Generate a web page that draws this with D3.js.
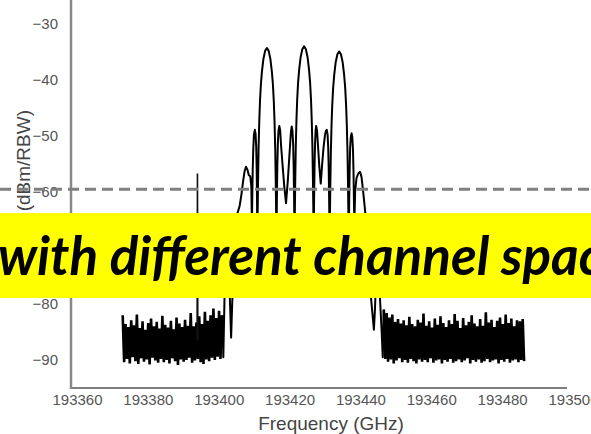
<!DOCTYPE html>
<html>
<head>
<meta charset="utf-8">
<script src="https://cdn.jsdelivr.net/npm/d3@7"></script>
<style>
body { margin: 0; background: #fff; }
svg { display: block; }
</style>
</head>
<body>
<div id="chart"></div>
<script>
var xTicks = [193360, 193380, 193400, 193420, 193440, 193460, 193480, 193500];
var yTicks = [-90, -80, -70, -60, -50, -40, -30];
var threshold = -59.5;

// noise floor samples, 0.4 GHz apart
var noiseStep = 0.4;
var noiseLeftStart = 193372.9;
var noiseLeft = [-82.0, -90.4, -83.6, -89.8, -84.1, -90.6, -82.9, -89.5, -83.8, -90.2,
    -81.9, -90.7, -84.3, -89.7, -83.1, -90.3, -84.6, -89.9, -83.4, -90.8,
    -82.6, -89.6, -84.0, -90.1, -83.2, -90.5, -84.4, -89.8, -82.1, -90.4,
    -83.7, -90.0, -84.2, -90.6, -83.0, -89.7, -84.5, -90.2, -82.4, -90.9,
    -83.5, -89.9, -84.1, -90.3, -82.8, -90.0, -83.9, -89.6, -81.6, -90.5,
    -84.0, -90.1, -83.3, -89.8, -82.2, -90.4, -83.6, -90.7, -81.4, -89.9,
    -83.0, -90.2, -82.0, -89.6, -80.8, -90.0, -82.5, -89.4, -81.2, -89.8,
    -82.0];
var noiseRightStart = 193446.6;
var noiseRight = [-81.0, -89.8, -81.6, -90.3, -82.4, -89.9, -81.9, -90.6, -83.2, -90.1,
    -82.7, -89.7, -83.5, -90.4, -82.9, -90.0, -83.8, -90.5, -82.3, -89.8,
    -83.6, -90.2, -84.0, -90.6, -82.8, -89.9, -83.3, -90.3, -81.7, -90.0,
    -83.9, -90.4, -83.1, -89.7, -84.2, -90.5, -82.6, -90.1, -83.7, -89.9,
    -82.2, -90.6, -83.4, -90.0, -84.1, -90.3, -82.9, -89.8, -83.6, -90.5,
    -81.8, -90.2, -83.0, -89.9, -84.3, -90.4, -82.5, -90.1, -83.8, -89.7,
    -83.2, -90.6, -82.0, -90.0, -83.5, -90.3, -84.0, -89.9, -82.7, -90.5,
    -83.9, -90.2, -81.5, -89.8, -83.3, -90.4, -82.8, -90.1, -84.1, -89.9,
    -83.0, -90.6, -82.4, -90.0, -83.6, -90.3, -81.9, -89.8, -83.4, -90.5,
    -82.6, -90.1, -84.0, -89.9, -82.9, -90.4, -83.1, -90.0, -82.7, -90.2];

// three channels, [GHz, dBm]
var signal = [
    [193401.0, -82.0], [193401.3, -89.5], [193401.6, -80], [193402.0, -70], [193402.4, -66], [193402.8, -72],
    [193403.2, -80], [193403.5, -86], [193403.8, -80], [193404.3, -72], [193404.8, -66],
    [193405.2, -64], [193405.9, -62.5], [193406.4, -60.5], [193406.9, -58], [193407.3, -56.3],
    [193407.7, -55.5], [193408.1, -56], [193408.5, -57], [193408.9, -57.2], [193409.2, -59],
    [193409.38, -66], [193409.45, -62], [193409.6, -56], [193409.75, -52.4], [193409.95, -49.7],
    [193410.2, -48.9], [193410.4, -49.6], [193410.58, -51.9], [193410.72, -55.9], [193410.82, -61.9],
    [193410.88, -68],
    [193410.98, -64.3], [193411.1, -58.3], [193411.25, -52.3], [193411.45, -47.3], [193411.65, -43.8],
    [193411.9, -40.8], [193412.2, -38.5], [193412.6, -36.3], [193413.1, -34.8], [193413.6, -34.3],
    [193414.1, -34.8], [193414.6, -36.3], [193415.0, -38.5], [193415.3, -40.8], [193415.55, -43.8],
    [193415.75, -47.3], [193415.95, -52.3], [193416.1, -58.3], [193416.22, -64.3], [193416.32, -68],
    [193416.42, -61.2], [193416.55, -55.2], [193416.7, -51.2], [193416.88, -49], [193417.1, -48.2],
    [193417.35, -49], [193417.6, -51.7], [193418.0, -55], [193418.5, -59], [193419.0, -62],
    [193419.5, -58], [193419.9, -54], [193420.2, -51], [193420.4, -49.2], [193420.6, -48.3],
    [193420.82, -49.1], [193421.0, -51.3], [193421.15, -55.3], [193421.28, -61.3], [193421.38, -68],
    [193421.48, -64], [193421.6, -58], [193421.75, -52], [193421.95, -47], [193422.15, -43.5],
    [193422.4, -40.5], [193422.7, -38.2], [193423.1, -36.0], [193423.6, -34.5], [193424.1, -34.0],
    [193424.6, -34.5], [193425.1, -36.0], [193425.5, -38.2], [193425.8, -40.5], [193426.05, -43.5],
    [193426.25, -47], [193426.45, -52], [193426.6, -58], [193426.72, -64], [193426.82, -68],
    [193426.92, -61.2], [193427.05, -55.2], [193427.2, -51.2], [193427.35, -49], [193427.5, -48.2],
    [193427.75, -49], [193428.0, -51.5], [193428.4, -55.5], [193428.8, -58.5], [193429.2, -55],
    [193429.6, -52], [193430.0, -49.8], [193430.25, -49.1], [193430.5, -48.9], [193430.72, -49.7],
    [193430.9, -51.9], [193431.05, -55.9], [193431.18, -61.9], [193431.28, -68],
    [193431.38, -64.9], [193431.5, -58.9], [193431.65, -52.9], [193431.85, -47.9], [193432.05, -44.4],
    [193432.3, -41.4], [193432.6, -39.1], [193433.0, -36.9], [193433.5, -35.4], [193434.0, -34.9],
    [193434.5, -35.4], [193435.0, -36.9], [193435.4, -39.1], [193435.7, -41.4], [193435.95, -44.4],
    [193436.15, -47.9], [193436.35, -52.9], [193436.5, -58.9], [193436.62, -64.9], [193436.72, -68],
    [193436.82, -62], [193436.95, -56], [193437.1, -52], [193437.28, -50.2], [193437.5, -49.5],
    [193437.72, -50.3], [193437.9, -52.5], [193438.05, -56.5], [193438.18, -62], [193438.28, -66],
    [193438.5, -60], [193438.9, -57.5], [193439.4, -56.7], [193439.9, -56.4], [193440.3, -57.3],
    [193440.7, -59.5], [193441.1, -62], [193441.5, -64.5], [193442.0, -70], [193442.5, -75],
    [193443.0, -79], [193443.5, -82.5], [193443.8, -84.6], [193444.1, -81], [193444.5, -74],
    [193444.8, -68], [193445.2, -74], [193445.6, -80], [193446.0, -85], [193446.3, -89.5],
    [193446.6, -81.0]
];
var spur = [[193393.9, -86.5], [193394.0, -56.7], [193394.1, -86.5]];

var bannerText = "with different channel spacing";

var W = 591, H = 434;
var svg = d3.select("#chart").append("svg").attr("width", W).attr("height", H);

var x = d3.scaleLinear().domain([193360, 193500]).range([77, 573]);
var y = d3.scaleLinear().domain([-95, -25]).range([388, -4]);

var line = d3.line().x(function (d) { return x(d[0]); }).y(function (d) { return y(d[1]); });

function noisePts(start, vals) {
    return vals.map(function (v, i) { return [start + i * noiseStep, v]; });
}

svg.selectAll("path.noise").data([noisePts(noiseLeftStart, noiseLeft), noisePts(noiseRightStart, noiseRight)])
    .enter().append("path").attr("class", "noise").attr("d", line)
    .attr("fill", "none").attr("stroke", "#000").attr("stroke-width", 2.6);
svg.append("path").datum(signal).attr("d", line)
    .attr("fill", "none").attr("stroke", "#000").attr("stroke-width", 2).attr("stroke-linejoin", "round");
svg.append("path").datum(spur).attr("d", line)
    .attr("fill", "none").attr("stroke", "#111").attr("stroke-width", 1.6);

// axes
svg.append("g").attr("transform", "translate(71,0)")
    .call(d3.axisLeft(y).tickValues(yTicks).tickSize(0).tickPadding(13));
svg.append("g").attr("transform", "translate(0,388)")
    .call(d3.axisBottom(x).tickValues(xTicks).tickSize(0).tickPadding(6).tickFormat(d3.format("d")));
svg.selectAll(".domain").remove();
svg.selectAll(".tick text").attr("font-family", "Liberation Sans, Arial, sans-serif")
    .attr("font-size", 15).attr("fill", "#555");

svg.append("line").attr("x1", 71).attr("x2", 567).attr("y1", 388).attr("y2", 388)
    .attr("stroke", "#555").attr("stroke-width", 1.6);
svg.append("line").attr("x1", 71).attr("x2", 71).attr("y1", 0).attr("y2", 389)
    .attr("stroke", "#888").attr("stroke-width", 2.5);

svg.append("text").attr("x", 331).attr("y", 430).attr("text-anchor", "middle")
    .attr("font-family", "Liberation Sans, Arial, sans-serif").attr("font-size", 19).attr("fill", "#444")
    .text("Frequency (GHz)");
svg.append("text").attr("transform", "translate(30,110) rotate(-90)").attr("text-anchor", "end")
    .attr("font-family", "Liberation Sans, Arial, sans-serif").attr("font-size", 19).attr("fill", "#444")
    .text("Power (dBm/RBW)");

// threshold
svg.append("line").attr("x1", 0).attr("x2", W).attr("y1", y(threshold)).attr("y2", y(threshold))
    .attr("stroke", "#808080").attr("stroke-width", 3).attr("stroke-dasharray", "11,6");

// banner
svg.append("rect").attr("x", 0).attr("y", 213).attr("width", W).attr("height", 85).attr("fill", "#ffff00");
svg.append("text").attr("x", -2).attr("y", 275)
    .attr("font-family", "Lato, sans-serif").attr("font-weight", "bold").attr("font-style", "italic")
    .attr("font-size", 53).attr("fill", "#000")
    .text(bannerText);
</script>
</body>
</html>
